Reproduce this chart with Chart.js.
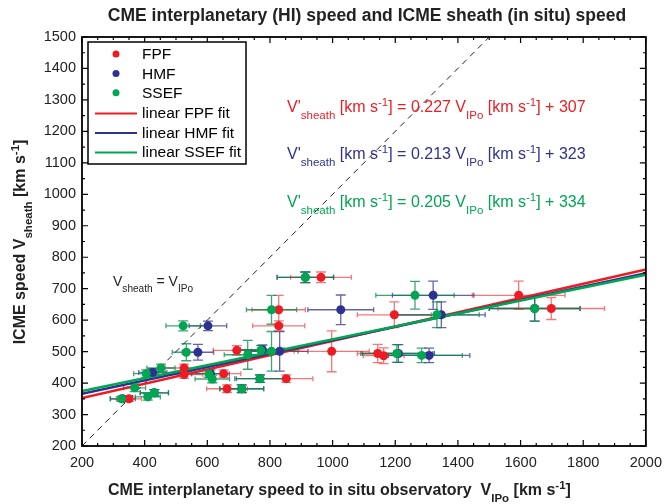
<!DOCTYPE html>
<html>
<head>
<meta charset="utf-8">
<script src="https://cdn.jsdelivr.net/npm/chart.js@4"></script>
<style>
  html, body { margin: 0; padding: 0; background: #fff; }
  #wrap { width: 670px; height: 504px; }
</style>
</head>
<body>
<div id="wrap"><canvas id="chart"></canvas></div>
<script>
// data
const fpfX    = [963, 1594, 1698, 828, 1197, 828, 997, 1144, 1163, 694, 526, 526, 852, 652, 663, 350];
const fpfY    = [736, 679, 637, 633, 617, 582, 501, 494, 487, 504, 448, 427, 414, 430, 382, 350];
const fpfXErr = [97, 148, 170, 85, 118, 83, 120, 65, 65, 75, 60, 60, 85, 55, 65, 40];
const fpfYErr = [17, 45, 35, 46, 41, 16, 65, 29, 25, 15, 12, 12, 12, 12, 12, 8];

const hmfX    = [913, 1321, 1645, 1026, 1347, 602, 570, 831, 1210, 1308, 776, 426, 768, 710, 330, 431, 610];
const hmfY    = [736, 679, 637, 633, 617, 582, 498, 501, 494, 488, 506, 434, 414, 382, 350, 369, 430];
const hmfXErr = [90, 130, 145, 105, 140, 60, 50, 90, 115, 130, 70, 45, 80, 70, 40, 45, 60];
const hmfYErr = [17, 45, 40, 47, 41, 15, 25, 63, 28, 23, 15, 12, 12, 12, 8, 10, 12];

const ssefX    = [913, 1263, 1645, 805, 1333, 523, 533, 805, 1205, 1284, 771, 729, 452, 405, 768, 605, 616, 710, 368, 431, 410, 326];
const ssefY    = [736, 679, 637, 633, 617, 582, 498, 501, 494, 488, 504, 490, 448, 430, 414, 430, 413, 382, 385, 369, 356, 350];
const ssefXErr = [90, 125, 145, 80, 135, 55, 45, 85, 115, 130, 70, 75, 45, 40, 75, 55, 55, 70, 35, 45, 40, 35];
const ssefYErr = [17, 44, 40, 46, 41, 16, 27, 63, 28, 23, 15, 46, 12, 12, 12, 12, 12, 12, 12, 10, 10, 8];

const fitNames      = ['FPF', 'HMF', 'SSEF'];
const fitSlopes     = [0.227, 0.213, 0.205];
const fitIntercepts = [307, 323, 334];

const xTicks = [200, 400, 600, 800, 1000, 1200, 1400, 1600, 1800, 2000];
const yTicks = [200, 300, 400, 500, 600, 700, 800, 900, 1000, 1100, 1200, 1300, 1400, 1500];

const RED = '#ed1c24', BLUE = '#2e3192', GREEN = '#00a651';
const FONT = "'Liberation Sans', Arial, Helvetica, sans-serif";

function pts(xs, ys) { return xs.map((x, i) => ({ x: x, y: ys[i] })); }
function fitLine(i) {
  const x0 = xTicks[0], x1 = xTicks[xTicks.length - 1];
  return [{ x: x0, y: fitSlopes[i] * x0 + fitIntercepts[i] },
          { x: x1, y: fitSlopes[i] * x1 + fitIntercepts[i] }];
}

const errSets = [
  { x: hmfX, y: hmfY, xe: hmfXErr, ye: hmfYErr, c: 'rgba(46,49,146,0.75)' },
  { x: fpfX, y: fpfY, xe: fpfXErr, ye: fpfYErr, c: 'rgba(237,28,36,0.6)' },
  { x: ssefX, y: ssefY, xe: ssefXErr, ye: ssefYErr, c: 'rgba(0,135,70,0.75)' }
];

// text with sub/superscripts, returns width
function rich(ctx, parts, x, y, bold, size, color, center) {
  const fontOf = p => (bold ? 'bold ' : '') + (p.s ? size * 0.72 : size) + 'px ' + FONT;
  const w = parts.reduce((s, p) => { ctx.font = fontOf(p); return s + ctx.measureText(p.t).width; }, 0);
  ctx.fillStyle = color;
  ctx.textBaseline = 'alphabetic';
  ctx.textAlign = 'left';
  let cx = center ? x - w / 2 : x;
  parts.forEach(p => {
    ctx.font = fontOf(p);
    ctx.fillText(p.t, cx, y + (p.s || 0));
    cx += ctx.measureText(p.t).width;
  });
  return w;
}

const decor = {
  id: 'decor',
  beforeDatasetsDraw(chart) {
    const ctx = chart.ctx, xs = chart.scales.x, ys = chart.scales.y;
    ctx.save();
    ctx.lineWidth = 1.3;
    errSets.forEach(set => {
      ctx.strokeStyle = set.c;
      set.x.forEach((v, i) => {
        const px = xs.getPixelForValue(v), py = ys.getPixelForValue(set.y[i]);
        const l = xs.getPixelForValue(v - set.xe[i]), r = xs.getPixelForValue(v + set.xe[i]);
        const t = ys.getPixelForValue(set.y[i] + set.ye[i]), b = ys.getPixelForValue(set.y[i] - set.ye[i]);
        ctx.beginPath();
        ctx.moveTo(l, py); ctx.lineTo(r, py);
        ctx.moveTo(l, py - 2.5); ctx.lineTo(l, py + 2.5);
        ctx.moveTo(r, py - 2.5); ctx.lineTo(r, py + 2.5);
        ctx.moveTo(px, t); ctx.lineTo(px, b);
        ctx.moveTo(px - 5, t); ctx.lineTo(px + 5, t);
        ctx.moveTo(px - 5, b); ctx.lineTo(px + 5, b);
        ctx.stroke();
      });
    });
    ctx.restore();
  },
  afterDraw(chart) {
    const ctx = chart.ctx, a = chart.chartArea, xs = chart.scales.x, ys = chart.scales.y;
    ctx.save();
    // ticks, inward on all sides
    ctx.strokeStyle = '#000';
    ctx.lineWidth = 1.2;
    ctx.beginPath();
    for (let v = xs.min; v <= xs.max; v += 50) {
      const p = xs.getPixelForValue(v), L = v % 200 === 0 ? 6 : 3;
      ctx.moveTo(p, a.bottom); ctx.lineTo(p, a.bottom - L);
      ctx.moveTo(p, a.top); ctx.lineTo(p, a.top + L);
    }
    for (let v = ys.min; v <= ys.max; v += 50) {
      const p = ys.getPixelForValue(v), L = v % 100 === 0 ? 6 : 3;
      ctx.moveTo(a.left, p); ctx.lineTo(a.left + L, p);
      ctx.moveTo(a.right, p); ctx.lineTo(a.right - L, p);
    }
    ctx.stroke();
    ctx.lineWidth = 1.8;
    ctx.strokeRect(a.left, a.top, a.right - a.left, a.bottom - a.top);

    // legend
    ctx.fillStyle = '#fff';
    ctx.fillRect(88, 42, 158, 122);
    ctx.lineWidth = 1.5;
    ctx.strokeRect(88, 42, 158, 122);
    const cols = [RED, BLUE, GREEN];
    ctx.font = '15.5px ' + FONT;
    ctx.textBaseline = 'middle';
    ctx.textAlign = 'left';
    fitNames.forEach((n, i) => {
      ctx.fillStyle = cols[i];
      ctx.beginPath(); ctx.arc(116, 54 + i * 19.4, 3.5, 0, Math.PI * 2); ctx.fill();
      ctx.fillStyle = '#000';
      ctx.fillText(n, 142, 55 + i * 19.4);
      ctx.strokeStyle = cols[i];
      ctx.lineWidth = 2;
      ctx.beginPath(); ctx.moveTo(95, 113.5 + i * 19.5); ctx.lineTo(137, 113.5 + i * 19.5); ctx.stroke();
      ctx.fillStyle = '#000';
      ctx.fillText('linear ' + n + ' fit', 142, 114 + i * 19.5);
    });

    // fit equations
    fitNames.forEach((n, i) => {
      rich(ctx, [
        { t: "V'" }, { t: 'sheath', s: 7 }, { t: ' [km s' }, { t: '-1', s: -6 },
        { t: '] = ' + fitSlopes[i].toFixed(3) + ' V' }, { t: 'IPo', s: 7 },
        { t: ' [km s' }, { t: '-1', s: -6 }, { t: '] + ' + fitIntercepts[i] }
      ], 287, 111.5 + i * 47.8, false, 16, cols[i]);
    });
    rich(ctx, [{ t: 'V' }, { t: 'sheath', s: 6 }, { t: ' = V' }, { t: 'IPo', s: 6 }],
      113, 286, false, 14, '#222');

    // title
    ctx.font = 'bold 17.5px ' + FONT;
    ctx.fillStyle = '#222';
    ctx.textAlign = 'center';
    ctx.textBaseline = 'alphabetic';
    ctx.fillText('CME interplanetary (HI) speed and ICME sheath (in situ) speed', 367, 21);

    // x axis title
    rich(ctx, [
      { t: 'CME interplanetary speed to in situ observatory  V' }, { t: 'IPo', s: 7 },
      { t: ' [km s' }, { t: '-1', s: -6 }, { t: ']' }
    ], 108, 495, true, 16, '#222');

    // y axis title
    ctx.translate(25, 242);
    ctx.rotate(-Math.PI / 2);
    rich(ctx, [
      { t: 'ICME speed V' }, { t: 'sheath', s: 7 }, { t: ' [km s' }, { t: '-1', s: -6 }, { t: ']' }
    ], 0, 0, true, 16, '#222', true);
    ctx.restore();
  }
};

const scatterDs = (label, data, color, order) => ({
  type: 'scatter', label: label, data: data, order: order,
  backgroundColor: color, borderWidth: 0, pointRadius: 4.5, pointHoverRadius: 4.5
});
const lineDs = (label, data, color, order, dash, width) => ({
  type: 'line', label: label, data: data, order: order,
  borderColor: color, borderWidth: width, borderDash: dash || [],
  pointRadius: 0, fill: false, tension: 0
});

new Chart(document.getElementById('chart'), {
  data: {
    datasets: [
      scatterDs('SSEF', pts(ssefX, ssefY), GREEN, 0),
      scatterDs('FPF', pts(fpfX, fpfY), RED, 1),
      scatterDs('HMF', pts(hmfX, hmfY), BLUE, 2),
      lineDs('linear SSEF fit', fitLine(2), GREEN, 3, null, 2.5),
      lineDs('linear HMF fit', fitLine(1), BLUE, 4, null, 2.5),
      lineDs('linear FPF fit', fitLine(0), RED, 5, null, 2.5),
      lineDs('Vsheath = VIPo', [{ x: 200, y: 200 }, { x: 1500, y: 1500 }], '#222', 6, [6, 5], 1)
    ]
  },
  options: {
    responsive: true,
    maintainAspectRatio: false,
    animation: false,
    layout: { padding: { left: 0, top: 37, right: 19, bottom: 0 } },
    plugins: { legend: { display: false }, tooltip: { enabled: false } },
    scales: {
      x: {
        type: 'linear', min: 200, max: 2000,
        afterBuildTicks: s => { s.ticks = xTicks.map(v => ({ value: v })); },
        afterFit: s => { s.height = 58; },
        grid: { display: false, drawTicks: false }, border: { display: false },
        ticks: { color: '#222', font: { family: FONT, size: 14.5 }, padding: 8, maxRotation: 0,
                 callback: v => String(v) }
      },
      y: {
        type: 'linear', min: 200, max: 1500,
        afterBuildTicks: s => { s.ticks = yTicks.map(v => ({ value: v })); },
        afterFit: s => { s.width = 82; },
        grid: { display: false, drawTicks: false }, border: { display: false },
        ticks: { color: '#222', font: { family: FONT, size: 14.5 }, padding: 6,
                 callback: v => String(v) }
      }
    }
  },
  plugins: [decor]
});
</script>
</body>
</html>
